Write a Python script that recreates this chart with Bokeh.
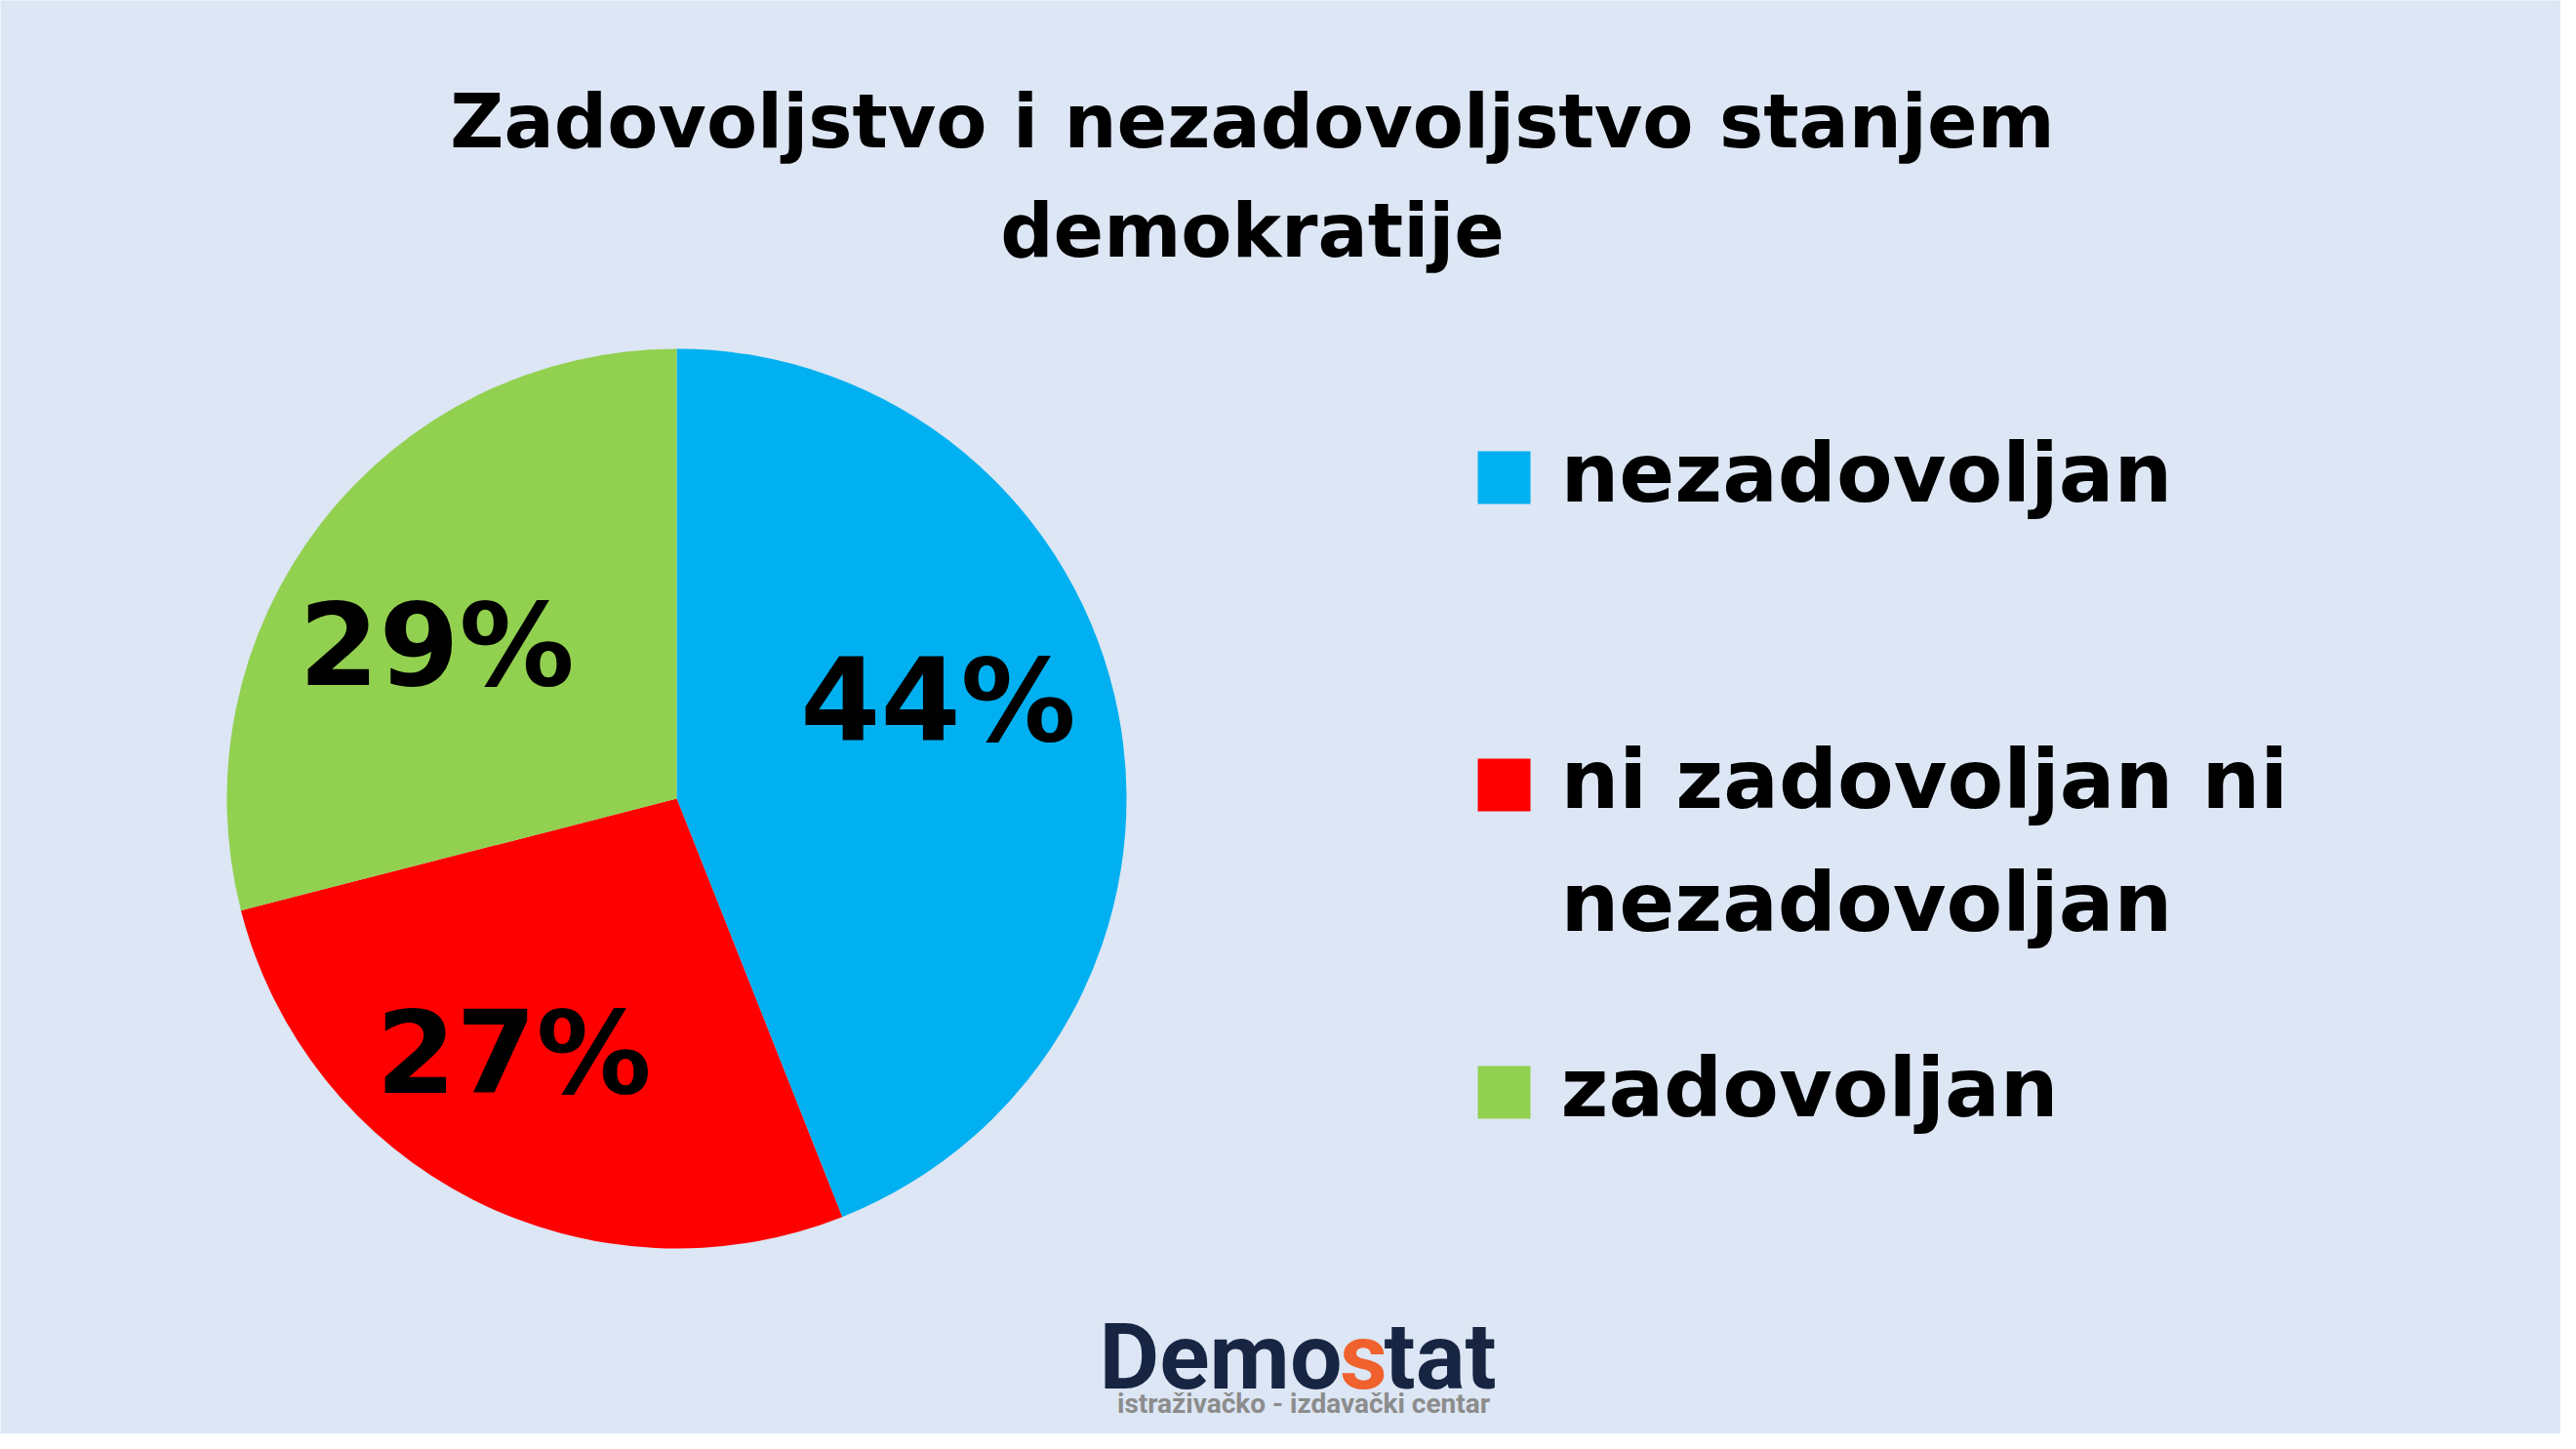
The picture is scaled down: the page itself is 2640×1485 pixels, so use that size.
import math
import textwrap
from bokeh.plotting import figure
from bokeh.models import Range1d, ColumnDataSource
from bokeh.core.properties import value
from bokeh.embed import file_html
from bokeh.resources import INLINE

# ---- data ----
title_lines = ["Zadovoljstvo i nezadovoljstvo stanjem", "demokratije"]
categories = ["nezadovoljan", "ni zadovoljan ni nezadovoljan", "zadovoljan"]
shares = [44, 27, 29]
colors = ["#00B0F0", "#FF0000", "#92D050"]
logo_parts = ["Demo", "s", "tat"]
logo_sub = "istraživačko - izdavački  centar"

# ---- layout (pixel space of the plot, y upwards) ----
W, H = 2624, 1469
BG = "#DCE6F4"
FONT = "DejaVu Sans"
K = 0.36  # baseline compensation (fraction of font size)


def ty(y, size):
    return y + K * size


cx, cy, R = 693, 651, 461
PCT = 118
label_pos = [(961, 709), (526, 348), (447, 766)]
legend_sq_x, legend_sq_size = 1541, 54
legend_sq_y = [980, 665, 350]
LEG = 84
legend_txt_x = 1599
legend_txt_y = [954, 640, 324]
legend_line_gap = 126
TIT = 76

p = figure(width=W, height=H, x_range=Range1d(0, W), y_range=Range1d(0, H),
           output_backend="svg", toolbar_location=None, min_border=0,
           x_axis_type=None, y_axis_type=None)
p.grid.visible = False
p.outline_line_color = None
p.background_fill_color = BG
p.border_fill_color = BG

# pie
total = sum(shares)
starts, ends = [], []
acc = 0
for v in shares:
    starts.append(math.pi / 2 - 2 * math.pi * acc / total)
    acc += v
    ends.append(math.pi / 2 - 2 * math.pi * acc / total)
src = ColumnDataSource(dict(x=[cx] * len(shares), y=[cy] * len(shares),
                            start=starts, end=ends, color=colors))
p.wedge(x="x", y="y", radius=R, start_angle="start", end_angle="end",
        direction="clock", fill_color="color", line_color=None, source=src)

# percentage labels
p.text(x=[q[0] for q in label_pos], y=[ty(q[1], PCT) for q in label_pos],
       text=[f"{v}%" for v in shares], text_font=value(FONT),
       text_font_style="bold", text_font_size=f"{PCT}px", text_color="black",
       text_align="center", text_baseline="alphabetic")

# title
p.text(x=[1283, 1283], y=[ty(1318, TIT), ty(1206, TIT)], text=title_lines,
       text_font=value(FONT), text_font_style="bold",
       text_font_size=f"{TIT}px", text_color="black",
       text_align="center", text_baseline="alphabetic")

# legend
p.rect(x=[legend_sq_x] * len(categories), y=legend_sq_y, width=legend_sq_size,
       height=legend_sq_size, fill_color=colors, line_color=None)
lx, ly, lt = [], [], []
for i, cat in enumerate(categories):
    for j, line in enumerate(textwrap.wrap(cat, 16)):
        lx.append(legend_txt_x)
        ly.append(ty(legend_txt_y[i] - j * legend_line_gap, LEG))
        lt.append(line)
p.text(x=lx, y=ly, text=lt, text_font=value(FONT), text_font_style="bold",
       text_font_size=f"{LEG}px", text_color="black", text_align="left",
       text_baseline="alphabetic")

# logo
LOGO = 95
SUB = 28
p.text(x=[1375], y=[ty(45, LOGO)], text=[logo_parts[0]], text_font=value("Roboto"),
       text_font_style="bold", text_font_size=f"{LOGO}px", text_color="#172543",
       text_align="right", text_baseline="alphabetic")
p.text(x=[1397], y=[ty(45, LOGO)], text=[logo_parts[1]], text_font=value("Roboto"),
       text_font_style="bold", text_font_size=f"{LOGO}px", text_color="#F0612D",
       text_align="center", text_baseline="alphabetic")
p.text(x=[1418], y=[ty(45, LOGO)], text=[logo_parts[2]], text_font=value("Roboto"),
       text_font_style="bold", text_font_size=f"{LOGO}px", text_color="#172543",
       text_align="left", text_baseline="alphabetic")
p.text(x=[1339], y=[ty(21, SUB)], text=[logo_sub], text_font=value("Roboto"),
       text_font_style="bold", text_font_size=f"{SUB}px", text_color="#8C8C8C",
       text_align="center", text_baseline="alphabetic")

open("out.html", "w").write(file_html(p, INLINE))
